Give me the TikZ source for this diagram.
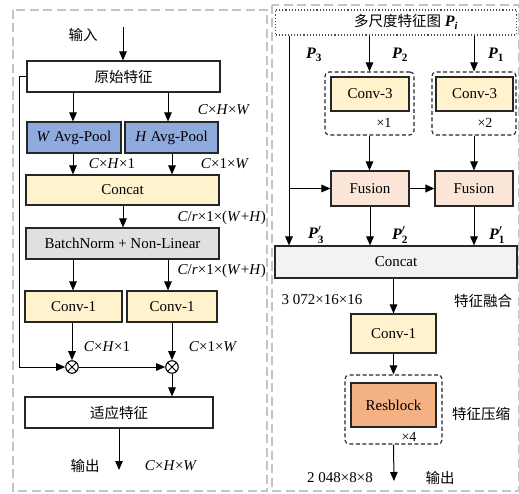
\documentclass[tikz,border=0pt]{standalone}
\usepackage{fontspec}
\setmainfont{Liberation Serif}
\newfontfamily\cjk{Noto Sans CJK SC}
\usetikzlibrary{arrows.meta}
\definecolor{poolblue}{HTML}{8FAADC}
\definecolor{lightyellow}{HTML}{FFF2CC}
\definecolor{bngray}{HTML}{E0E0E0}
\definecolor{catgray}{HTML}{F2F2F2}
\definecolor{fusioncol}{HTML}{FBE5D6}
\definecolor{rescol}{HTML}{F4B183}
\definecolor{framegray}{HTML}{C4C4C4}
\newcommand{\bP}{{\bfseries\itshape P}}
\tikzset{
  box/.style={draw=black!85, line width=1.1pt, inner sep=0pt, font=\fontsize{15}{17}\selectfont},
  grp/.style={draw=black!85, dash pattern=on 4pt off 2.5pt, line width=1.1pt, rounded corners=4pt, inner sep=0pt},
  arr/.style={-{Triangle[length=9pt,width=7.5pt]}, line width=1pt},
  lbl/.style={font=\fontsize{15}{17}\selectfont, inner sep=0pt},
  plbl/.style={font=\fontsize{16}{18}\selectfont, inner sep=0pt},
  cjklbl/.style={font=\fontsize{14.5}{17}\cjk, inner sep=0pt},
  otimes/.style={circle, draw, line width=1.1pt, minimum size=12.5pt, inner sep=0pt,
    path picture={\draw[line width=1pt] (path picture bounding box.north west)--(path picture bounding box.south east)
      (path picture bounding box.north east)--(path picture bounding box.south west);}},
  frame/.style={draw=framegray, dash pattern=on 9pt off 4.5pt, line width=1.1pt}
}
\begin{document}
\begin{tikzpicture}[x=1pt,y=-1pt]
\useasboundingbox (0,0) rectangle (519,494);
% outer frames
\draw[frame] (13,10) rectangle (267,491);
\draw[frame] (272,5) rectangle (518.5,491);

% ---------- left part ----------
\coordinate (in) at (123,27);
\node[cjklbl] (inlbl) at (83,35) {输入};
\node[box, minimum width=193pt, minimum height=31pt, font=\fontsize{14.5}{17}\cjk] (orig) at (123.5,76.5) {原始特征};
\node[box, fill=poolblue, minimum width=94pt, minimum height=31pt] (wpool) at (74,137.5) {\textit{W} Avg-Pool};
\node[box, fill=poolblue, minimum width=93pt, minimum height=31pt] (hpool) at (171.5,137.5) {\textit{H} Avg-Pool};
\node[box, fill=lightyellow, minimum width=193pt, minimum height=30pt] (cat1) at (122.5,190) {Concat};
\node[box, fill=bngray, minimum width=193pt, minimum height=31pt] (bn) at (122.5,243.5) {BatchNorm + Non-Linear};
\node[box, fill=lightyellow, minimum width=97pt, minimum height=31pt] (c1a) at (73.5,306.5) {Conv-1};
\node[box, fill=lightyellow, minimum width=90pt, minimum height=31pt] (c1b) at (172,306.5) {Conv-1};
\node[otimes] (ot1) at (72,367) {};
\node[otimes] (ot2) at (172,367) {};
\node[box, minimum width=188pt, minimum height=31pt, font=\fontsize{14.5}{17}\cjk] (adapt) at (119,412.5) {适应特征};
\coordinate (out) at (119,470);

\node[lbl] (l1) at (224,110) {\textit{C}×\textit{H}×\textit{W}};
\node[lbl] (l2) at (112,164) {\textit{C}×\textit{H}×1};
\node[lbl] (l3) at (225,164) {\textit{C}×1×\textit{W}};
\node[lbl, anchor=east] (l4) at (266,218) {\textit{C}/\textit{r}×1×(\textit{W}+\textit{H})};
\node[lbl, anchor=east] (l5) at (266,271) {\textit{C}/\textit{r}×1×(\textit{W}+\textit{H})};
\node[lbl] (l6) at (107,347) {\textit{C}×\textit{H}×1};
\node[lbl] (l7) at (213,347) {\textit{C}×1×\textit{W}};
\node[cjklbl] (outlbl) at (85,466) {输出};
\node[lbl] (l8) at (171,466) {\textit{C}×\textit{H}×\textit{W}};

\draw[arr] (in) -- (orig.north -| in);
\draw[arr] (orig.south -| 73,0) -- (wpool.north -| 73,0);
\draw[arr] (orig.south -| 168,0) -- (hpool.north -| 168,0);
\draw[arr] (wpool.south -| 73,0) -- (cat1.north -| 73,0);
\draw[arr] (hpool.south -| 172,0) -- (cat1.north -| 172,0);
\draw[arr] (cat1.south -| 123,0) -- (bn.north -| 123,0);
\draw[arr] (bn.south -| 73,0) -- (c1a.north -| 73,0);
\draw[arr] (bn.south -| 168,0) -- (c1b.north -| 168,0);
\draw[arr] (c1a.south -| ot1) -- (ot1.north);
\draw[arr] (c1b.south -| ot2) -- (ot2.north);
\draw[arr] (orig.west) -- (19,76.5) |- (ot1.west);
\draw[arr] (ot1.east) -- (ot2.west);
\draw[arr] (ot2.south) -- (adapt.north -| ot2);
\draw[arr] (adapt.south -| out) -- (out);

% ---------- right part ----------
\node[box, draw=black!70, dotted, minimum width=241pt, minimum height=25pt] (pi) at (396,22.5) {};
\node[lbl] (pitext) at (406,22) {{\fontsize{14.5}{17}\cjk 多尺度特征图} {\fontsize{16}{18}\selectfont\bP}\textsubscript{\textit{\textbf{i}}}};
\coordinate (p3x) at (289,0);
\node[grp, minimum width=89pt, minimum height=63pt] (g1) at (369.5,103.5) {};
\node[grp, minimum width=84pt, minimum height=63pt] (g2) at (474,103.5) {};
\node[box, fill=lightyellow, minimum width=78pt, minimum height=34pt] (c3a) at (370,94) {Conv-3};
\node[box, fill=lightyellow, minimum width=77pt, minimum height=34pt] (c3b) at (474.5,94) {Conv-3};
\node[lbl, font=\fontsize{14}{16}\selectfont] (x1) at (384,123) {×1};
\node[lbl, font=\fontsize{14}{16}\selectfont] (x2) at (485,123) {×2};
\node[box, fill=fusioncol, minimum width=78pt, minimum height=35pt] (f1) at (370,188.5) {Fusion};
\node[box, fill=fusioncol, minimum width=78pt, minimum height=35pt] (f2) at (474,188.5) {Fusion};
\node[box, fill=catgray, minimum width=242pt, minimum height=32pt] (cat2) at (396,262) {Concat};
\node[box, fill=lightyellow, minimum width=85pt, minimum height=39pt] (c1c) at (393.5,333.5) {Conv-1};
\node[grp, minimum width=97pt, minimum height=69pt] (g3) at (393.5,409.5) {};
\node[box, fill=rescol, minimum width=85pt, minimum height=44pt] (res) at (393.5,405) {Resblock};
\node[lbl, font=\fontsize{14}{16}\selectfont] (x4) at (409,437) {×4};
\coordinate (out2) at (394,481);

\node[plbl] (lp3) at (314,55) {\bP\textsubscript{\textbf{3}}};
\node[plbl] (lp2) at (400,55) {\bP\textsubscript{\textbf{2}}};
\node[plbl] (lp1) at (496,55) {\bP\textsubscript{\textbf{1}}};
\node[plbl] (lq3) at (316,235) {\bP$'_{\mathbf 3}$};
\node[plbl] (lq2) at (400,235) {\bP$'_{\mathbf 2}$};
\node[plbl] (lq1) at (497,235) {\bP$'_{\mathbf 1}$};
\node[lbl] (lsz1) at (322,300) {3 072×16×16};
\node[cjklbl] (lfuse) at (483,301) {特征融合};
\node[cjklbl] (lcomp) at (481,414) {特征压缩};
\node[lbl] (lsz2) at (340,478) {2 048×8×8};
\node[cjklbl] (out2lbl) at (440,478) {输出};

\draw[arr] (pi.south -| p3x) -- (cat2.north -| p3x);
\draw[arr] (pi.south -| g1) -- (g1.north);
\draw[arr] (pi.south -| g2) -- (g2.north);
\draw[arr] (g1.south) -- (f1.north -| g1);
\draw[arr] (g2.south) -- (f2.north -| g2);
\draw[arr] (f1.west -| p3x) -- (f1.west);
\draw[arr, line width=1.8pt] (f1.east) -- (f2.west);
\draw[arr] (f1.south) -- (cat2.north -| f1);
\draw[arr] (f2.south) -- (cat2.north -| f2);
\draw[arr] (cat2.south -| c1c) -- (c1c.north);
\draw[arr] (c1c.south) -- (g3.north);
\draw[arr] (g3.south) -- (out2);
\end{tikzpicture}
\end{document}
